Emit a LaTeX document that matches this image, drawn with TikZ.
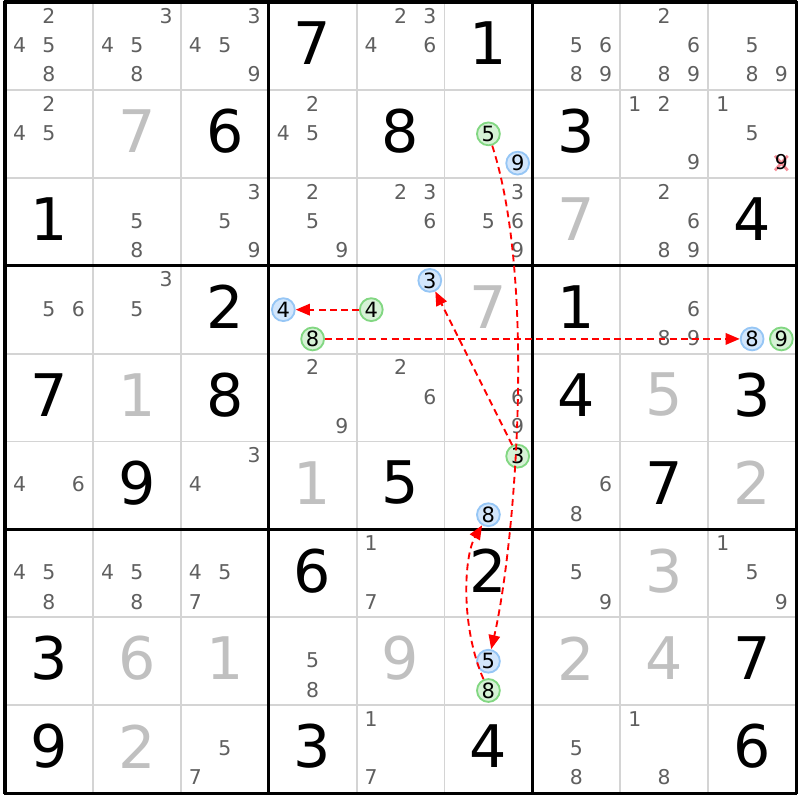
\documentclass[tikz,border=0pt]{standalone}
\usepackage{fontspec}
\setmainfont{DejaVu Sans}
\usepackage{tikz}
\usetikzlibrary{arrows.meta}
\definecolor{CandGray}{RGB}{95,95,95}
\definecolor{SolvedGray}{RGB}{192,192,192}
\definecolor{GridGray}{RGB}{212,212,212}
\definecolor{BlueRing}{RGB}{150,198,245}
\definecolor{BlueFill}{RGB}{210,230,252}
\definecolor{GreenRing}{RGB}{130,215,130}
\definecolor{GreenFill}{RGB}{214,242,214}
\definecolor{CrossPink}{RGB}{245,140,150}
\begin{document}
\begin{tikzpicture}[x=1cm,y=-1cm,
  given/.style={font=\fontsize{19}{19}\selectfont,text=black,inner sep=0pt},
  solved/.style={given,text=SolvedGray},
  cand/.style={font=\fontsize{6.6}{7}\selectfont,text=CandGray,inner sep=0pt},
  bluecand/.style={circle,draw=BlueRing,fill=BlueFill,line width=0.6pt,minimum size=0.26cm,inner sep=0pt,font=\fontsize{6.8}{7}\selectfont},
  greencand/.style={bluecand,draw=GreenRing,fill=GreenFill},
  link/.style={red,dash pattern=on 2.2pt off 1.4pt,line width=0.6pt,-{Triangle[length=1.6mm,width=1.3mm]}}]
\useasboundingbox (-0.057,-0.023) rectangle (9.045,9.079);
\foreach \i in {1,2,4,5,7,8}{
  \draw[GridGray,line width=0.6pt] (\i,0) -- (\i,9);
  \draw[GridGray,line width=0.6pt] (0,\i) -- (9,\i);
}
\foreach \i in {0,3,6,9}{
  \draw[black,line width=1pt] (\i,-0.015) -- (\i,9.015);
  \draw[black,line width=1pt] (-0.015,\i) -- (9.015,\i);
}
\foreach \c/\r/\v in {3/0/7,5/0/1,2/1/6,4/1/8,6/1/3,0/2/1,8/2/4,2/3/2,6/3/1,0/4/7,2/4/8,6/4/4,8/4/3,
  1/5/9,4/5/5,7/5/7,3/6/6,5/6/2,0/7/3,8/7/7,0/8/9,3/8/3,5/8/4,8/8/6}
  \node[given] (g\c\r) at (\c+0.5,\r+0.47) {\v};
\foreach \c/\r/\v in {1/1/7,6/2/7,5/3/7,1/4/1,7/4/5,3/5/1,8/5/2,7/6/3,1/7/6,2/7/1,4/7/9,6/7/2,7/7/4,1/8/2}
  \node[solved] (s\c\r) at (\c+0.5,\r+0.47) {\v};
\foreach \c/\r/\ds in {0/0/{2,4,5,8},1/0/{3,4,5,8},2/0/{3,4,5,9},4/0/{2,3,4,6},6/0/{5,6,8,9},7/0/{2,6,8,9},8/0/{5,8,9},
  0/1/{2,4,5},3/1/{2,4,5},7/1/{1,2,9},8/1/{1,5},
  1/2/{5,8},2/2/{3,5,9},3/2/{2,5,9},4/2/{2,3,6},5/2/{3,5,6,9},7/2/{2,6,8,9},
  0/3/{5,6},1/3/{3,5},7/3/{6,8,9},3/4/{2,9},4/4/{2,6},5/4/{6,9},0/5/{4,6},2/5/{3,4},6/5/{6,8},
  0/6/{4,5,8},1/6/{4,5,8},2/6/{4,5,7},4/6/{1,7},6/6/{5,9},8/6/{1,5,9},3/7/{5,8},
  2/8/{5,7},4/8/{1,7},6/8/{5,8},7/8/{1,8}}
  \foreach \d in \ds {
    \pgfmathsetmacro\cx{\c+(2*mod(\d-1,3)+1)/6}
    \pgfmathsetmacro\cy{\r+(2*floor((\d-1)/3)+1)/6-0.01}
    \node[cand] (c\c\r\d) at (\cx,\cy) {\d};
  }
\draw[CrossPink,line width=0.9pt] (8.76,1.75) -- (8.905,1.915) (8.76,1.915) -- (8.905,1.75);
\node[cand,text=black] (x9) at (8.833,1.823) {9};
\node[greencand] (ga5) at (5.5,1.5) {5};
\node[bluecand] (ba9) at (5.833,1.833) {9};
\node[bluecand] (bb4) at (3.167,3.5) {4};
\node[greencand] (gb8) at (3.5,3.833) {8};
\node[bluecand] (bc3) at (4.833,3.167) {3};
\node[greencand] (gc4) at (4.167,3.5) {4};
\node[bluecand] (bd8) at (8.5,3.833) {8};
\node[greencand] (gd9) at (8.833,3.833) {9};
\node[greencand] (ge3) at (5.833,5.167) {3};
\node[bluecand] (be8) at (5.5,5.833) {8};
\node[bluecand] (bf5) at (5.5,7.5) {5};
\node[greencand] (gf8) at (5.5,7.833) {8};
\draw[link] (ga5) .. controls (6.05,3.2) and (5.8,6.2) .. (bf5);
\draw[link] (gf8) .. controls (5.18,7.1) and (5.22,6.3) .. (be8);
\draw[link] (ge3) -- (bc3);
\draw[link] (gc4) -- (bb4);
\draw[link] (gb8) -- (bd8);
\end{tikzpicture}
\end{document}
